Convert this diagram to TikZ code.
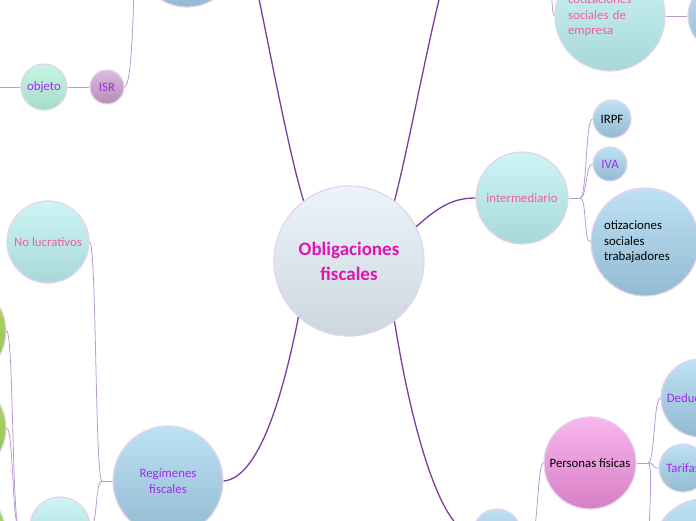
\documentclass[tikz,border=0pt]{standalone}
\usepackage{fontspec}
\setmainfont{Carlito}
\usetikzlibrary{positioning}
\definecolor{branch}{HTML}{7A3E9F}
\definecolor{twig}{HTML}{B99AD2}
\definecolor{rim}{HTML}{E4D3EF}
\definecolor{rootink}{HTML}{E014B2}
\definecolor{pinkink}{HTML}{F0609A}
\definecolor{purpink}{HTML}{A328EE}
\definecolor{roothi}{HTML}{EBF4FA}
\definecolor{rootlo}{HTML}{CCD7DE}
\definecolor{tealhi}{HTML}{CDF5F5}
\definecolor{teallo}{HTML}{A8D8DA}
\definecolor{bluehi}{HTML}{BEE2F4}
\definecolor{bluelo}{HTML}{92BAD2}
\definecolor{minthi}{HTML}{C6F5E6}
\definecolor{mintlo}{HTML}{A6DCC9}
\definecolor{mauvehi}{HTML}{DABBDD}
\definecolor{mauvelo}{HTML}{B68DB6}
\definecolor{pinkhi}{HTML}{F8B6EE}
\definecolor{pinklo}{HTML}{D77FC5}
\definecolor{greenhi}{HTML}{B6DA74}
\definecolor{greenlo}{HTML}{8FBF45}

\tikzset{
  bubble/.style={circle, draw=rim, line width=1.2pt, inner sep=0pt, align=center,
    font=\fontsize{12.8}{15.5}\selectfont},
  rootb/.style={bubble, top color=roothi, bottom color=rootlo, text=rootink,
    font=\fontsize{19}{25}\selectfont\bfseries},
  tealb/.style={bubble, top color=tealhi, bottom color=teallo, text=pinkink},
  blueb/.style={bubble, top color=bluehi, bottom color=bluelo, text=black},
  mintb/.style={bubble, top color=minthi, bottom color=mintlo, text=purpink},
  mauveb/.style={bubble, top color=mauvehi, bottom color=mauvelo, text=purpink},
  pinkb/.style={bubble, top color=pinkhi, bottom color=pinklo, text=black},
  greenb/.style={bubble, top color=greenhi, bottom color=greenlo},
  branchline/.style={draw=branch, line width=1.3pt},
  twigline/.style={draw=twig, line width=0.8pt},
}

\begin{document}
\begin{tikzpicture}[x=1pt, y=-1pt]
\useasboundingbox (0,0) rectangle (696,520);
\clip (0,0) rectangle (696,520);

\node[rootb, minimum size=150pt] (of) at (349,261) {Obligaciones\\fiscales};

\node[blueb, minimum size=100pt] (topl) at (187,-43) {};
\node[mauveb, minimum size=34pt] (isr) at (107,87) {ISR};
\node[mintb, minimum size=46pt] (obj) at (44,87) {objeto};

\node[tealb, minimum size=110pt, text width=84pt, align=left] (cse) at (610,16) {cotizaciones\\sociales de\\empresa};
\node[blueb, minimum size=70pt] (rc) at (723,16) {};

\node[tealb, minimum size=92pt] (inter) at (522,198) {intermediario};
\node[blueb, minimum size=38pt] (irpf) at (612,119) {IRPF};
\node[blueb, minimum size=34pt, text=purpink] (iva) at (610,164) {IVA};
\node[blueb, minimum size=108pt, text width=82pt, align=left] (cst) at (645,242) {otizaciones\\sociales\\trabajadores};

\node[tealb, minimum size=82pt] (nolu) at (48,242) {No lucrativos};
\node[blueb, minimum size=110pt, text=purpink] (reg) at (168,481) {Regímenes\\fiscales};
\node[tealb, minimum size=60pt] (bteal) at (60,527) {};
\node[greenb, minimum size=100pt] (g1) at (-44,331) {};
\node[greenb, minimum size=100pt] (g2) at (-44,428) {};
\node[greenb, minimum size=100pt] (g3) at (-44,535) {};

\node[blueb, minimum size=48pt] (bblue) at (497,533) {};
\node[pinkb, minimum size=92pt] (pf) at (590,463) {Personas físicas};
\node[blueb, minimum size=78pt, text=purpink] (ded) at (700,398) {Deducciones};
\node[blueb, minimum size=48pt, text=purpink] (tar) at (683,468) {Tarifas};
\node[blueb, minimum size=105pt] (br3) at (705,551) {};

\coordinate (up1) at (255,-20);
\coordinate (up2) at (444,-20);
\coordinate (tlb) at (135,-43);
\coordinate (objl) at (-10,87);
\coordinate (cseup) at (551,-20);
\coordinate (ib) at (580,198);
\coordinate (rb) at (102,481);
\coordinate (tb) at (19,527);
\coordinate (bb) at (532,533);
\coordinate (pr) at (648,463);

\draw[branchline] (of.127) .. controls (288,150) and (268,40) .. (up1);
\draw[branchline] (of.53) .. controls (408,150) and (428,40) .. (up2);
\draw[branchline] (of.27) .. controls (440,205) and (455,198) .. (inter.west);
\draw[branchline] (of.228) .. controls (282,400) and (258,478) .. (reg.east);
\draw[branchline] (of.307) .. controls (410,420) and (440,533) .. (bblue.west);

\draw[twigline] (isr.east) .. controls (131,86) and (133,30) .. (tlb) -- (topl.west);
\draw[twigline] (obj.east) -- (isr.west);
\draw[twigline] (obj.west) -- (objl);
\draw[twigline] (cse.west) .. controls (552,14) and (552,0) .. (cseup);
\draw[twigline] (cse.east) -- (rc.west);

\draw[twigline] (inter.east) -- (ib);
\foreach \c in {irpf,iva,cst}
  \draw[twigline] (ib) .. controls +(7,0) and +(-7,0) .. (\c.west);

\draw[twigline] (reg.west) -- (rb);
\foreach \c in {nolu,bteal}
  \draw[twigline] (rb) .. controls +(-7,0) and +(7,0) .. (\c.east);
\draw[twigline] (bteal.west) -- (tb);
\foreach \c in {g1,g2,g3}
  \draw[twigline] (tb) .. controls +(-7,0) and +(7,0) .. (\c.east);

\draw[twigline] (bblue.east) -- (bb) .. controls +(6,0) and +(-6,0) .. (pf.west);
\draw[twigline] (pf.east) -- (pr);
\foreach \c in {ded,tar,br3}
  \draw[twigline] (pr) .. controls +(7,0) and +(-7,0) .. (\c.west);
\end{tikzpicture}
\end{document}
